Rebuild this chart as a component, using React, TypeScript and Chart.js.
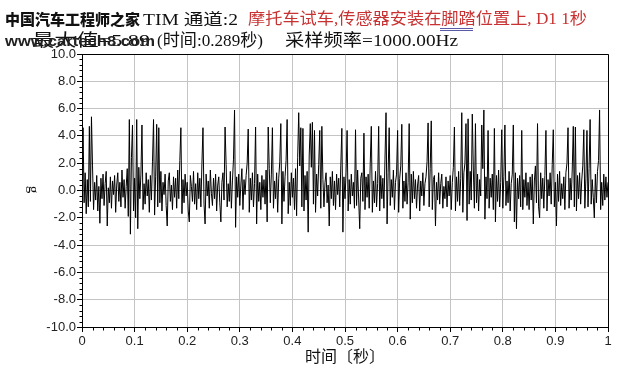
import React, { useEffect, useRef } from "react";
import { Chart, registerables } from "chart.js";

Chart.register(...registerables);

// Sample spacing of the estimated series (seconds)
const STEP = 0.002;

// Acceleration (g), 0.000 s – 0.198 s
const SEG_A = [
  0.4, 4.6, -0.9, 1.3, -1.7, 0.8, -1.2, 4.7, -0.8, 5.4,
  1.8, -1.4, 0.6, -0.7, 1.1, -1.5, 0.3, -2.4, 0.9, -0.6,
  1.2, -1.1, 0.5, 1.4, -2.6, 0.2, -0.9, 1.0, -1.3, 0.7,
  -0.3, 1.1, -1.6, 0.4, 1.3, -0.8, 0.6, -1.2, 1.5, -0.5,
  0.8, -1.3, 0.3, 1.6, -1.9, 5.2, -3.2, 2.4, 4.8, -1.5,
  0.9, -2.0, 5.2, -2.8, 1.7, -0.6, 1.2, 4.8, -1.4, 0.5,
  -1.0, 1.3, -0.4, 0.8, -1.6, 1.1, -0.7, 2.1, 5.2, -1.8,
  1.0, 4.85, -1.2, 4.6, -0.9, 1.4, -1.5, 0.6, -0.3, 1.2,
  -1.1, -2.6, 0.7, 1.3, -0.8, 0.4, -1.4, 1.0, -0.5, 0.9,
  -1.3, 1.5, -0.6, 2.2, 4.6, -1.7, 0.8, -0.9, 1.2, -0.4,
];
// 0.200 s – 0.398 s
const SEG_B = [
  0.6, -1.5, -2.3, 1.1, 0.3, -0.8, 1.4, -1.0, 0.5, -1.4,
  1.3, -0.6, 0.9, -1.2, 2.0, 4.6, -1.0, -2.45, 1.2, -0.4,
  0.7, -1.3, 1.5, -0.2, -1.1, 0.9, -0.6, 1.2, -1.5, 0.4,
  1.0, -0.9, -2.3, 0.6, 1.3, -0.7, 4.65, 1.9, -1.2, 0.5,
  -0.8, 1.4, -1.3, 0.7, 2.3, 5.89, -2.7, 1.0, -0.5, 1.2,
  -1.1, 0.4, 1.6, -1.4, 0.8, -0.3, 1.1, 2.0, 4.5, -1.6,
  0.9, -0.7, 1.3, -1.2, 0.5, 4.65, -2.45, 1.2, -0.8, 0.6,
  -1.4, 1.1, -0.5, 0.8, -1.0, 1.5, -2.3, 4.65, 1.6, -0.9,
  1.2, 4.6, -1.3, 0.7, -0.6, 1.3, -1.6, 0.9, 2.1, 4.9,
  -2.45, 1.4, -0.8, 1.0, 2.2, 5.2, -1.7, 0.6, -1.1, 1.3,
];
// 0.400 s – 0.598 s
const SEG_C = [
  -0.5, 0.9, -1.4, 1.6, -1.85, 2.4, 5.7, 1.8, 4.6, -1.2,
  4.55, -1.5, 1.1, -0.7, 1.4, -3.05, 2.6, 4.9, 1.7, 5.0,
  -1.0, 4.4, -1.6, 1.2, -0.4, 1.9, 4.4, -1.3, 4.7, 0.8,
  -1.2, 0.6, 1.3, -0.9, 0.4, -2.6, 1.0, -0.6, 1.4, -1.1,
  0.7, -1.4, 1.2, -0.3, 0.9, -1.2, 1.8, 4.55, -3.05, 1.0,
  -0.6, 1.3, 4.4, -1.5, 0.8, -1.0, 1.2, -0.4, 0.6, -1.3,
  4.45, -1.1, 1.5, -0.7, -2.8, 0.9, 1.3, -0.8, 4.2, -1.4,
  1.0, -0.5, 1.2, -1.3, 2.0, 4.7, -1.6, 0.7, -0.9, 1.4,
  -1.2, 0.5, 4.7, -1.5, 1.1, -0.6, 0.9, -1.3, 2.3, 5.7,
  -2.45, 1.3, 4.6, -1.1, 0.8, -0.5, 1.5, -1.4, 0.6, 1.2,
];
// 0.600 s – 0.798 s
const SEG_D = [
  4.4, -1.6, 0.9, 1.8, 4.85, -1.3, 0.7, -0.8, 1.3, -1.0,
  0.6, 4.9, -2.1, 1.2, -0.9, 1.4, -0.6, 0.8, -1.3, 0.4,
  1.1, -1.5, 0.7, -0.4, 1.3, -1.1, 0.5, 1.0, 2.1, 4.95,
  -1.2, 1.6, 5.1, -1.4, 0.8, 1.1, -2.6, 0.6, -0.7, 1.3,
  -1.0, 0.5, 1.2, -1.3, 0.3, -0.6, 1.0, -1.2, 0.7, -0.4,
  1.1, -1.4, 0.6, 1.7, 4.65, -1.5, 1.0, -0.8, 1.4, -1.1,
  0.9, 5.7, -1.6, 1.3, 2.0, 4.9, -2.2, 5.25, -1.0, 1.4,
  -0.7, 5.6, 1.5, -1.3, 4.9, -0.9, 1.2, -1.5, 0.8, -0.4,
  4.8, 1.6, 5.9, -2.1, 1.0, -0.6, 4.4, -1.3, 0.9, -0.5,
  1.2, -1.4, 4.55, -2.3, 1.1, -0.8, 1.5, -1.2, 0.6, 4.45,
];
// 0.800 s – 1.000 s
const SEG_E = [
  -1.3, 1.0, 4.8, -1.1, 0.7, -0.9, 1.4, -1.5, 0.5, 1.2,
  4.8, -2.3, 1.3, -2.8, 0.9, -0.6, 1.1, -1.2, 4.4, -1.4,
  0.8, -0.5, 1.3, -1.1, 0.6, -1.4, 1.0, -0.7, 1.2, -2.45,
  0.7, 1.8, -0.9, 4.9, -1.2, -2.0, 1.3, -0.6, 0.9, -1.3,
  1.1, 4.4, -1.5, 0.8, -0.4, 1.3, -1.0, 1.9, 4.45, -1.2,
  0.6, -2.6, 1.2, -0.8, 1.4, -1.1, 0.5, -0.6, 1.0, -1.4,
  1.3, 2.0, 4.6, -1.3, 0.9, -0.7, 1.5, 4.7, -1.2, 4.65,
  -1.5, 1.1, -0.6, 1.3, -1.0, 0.7, 1.8, 4.45, -1.3, 0.9,
  4.4, -1.2, 1.6, 5.2, -1.0, 0.8, -0.5, -2.0, 1.2, -0.9,
  1.4, 2.2, 5.9, -1.4, 0.6, -1.1, 1.2, -0.7, 1.0, -0.5,
  0.6,
];

const SIGNAL = [...SEG_A, ...SEG_B, ...SEG_C, ...SEG_D, ...SEG_E];

// Axis settings
const X_MIN = 0, X_MAX = 1, X_STEP = 0.1, X_MINOR = 0.02;
const Y_MIN = -10, Y_MAX = 10, Y_STEP = 2, Y_MINOR = 0.4;

// Texts
const WATERMARK_1 = "中国汽车工程师之家";
const WATERMARK_2 = "www.cartech8.com";
const HEAD_1 = "TIM 通道:2";
const HEAD_RED = "摩托车试车,传感器安装在脚踏位置上, D1 1秒";
const HEAD_MAX = "最大值=5.89";
const HEAD_TIME = "(时间:0.289秒)";
const HEAD_RATE = "采样频率=1000.00Hz";
const X_TITLE = "时间〔秒〕";
const Y_TITLE = "g";

const SERIF = '"Liberation Serif", "Noto Sans CJK SC", serif';
const SANS = '"Liberation Sans", Arial, sans-serif';

function fitText(
  ctx: CanvasRenderingContext2D,
  text: string,
  x: number,
  baseline: number,
  width: number,
  font: string,
  color: string
) {
  ctx.save();
  ctx.font = font;
  ctx.fillStyle = color;
  ctx.textAlign = "left";
  ctx.textBaseline = "alphabetic";
  const w = ctx.measureText(text).width || 1;
  ctx.translate(x, baseline);
  ctx.scale(width / w, 1);
  ctx.fillText(text, 0, 0);
  ctx.restore();
}

const decorPlugin = {
  id: "decor",
  beforeDraw(chart: any) {
    const ctx = chart.ctx;
    ctx.save();
    ctx.fillStyle = "#fff";
    ctx.fillRect(0, 0, chart.width, chart.height);
    ctx.restore();
  },
  afterDraw(chart: any) {
    const { ctx, chartArea: a, scales } = chart;
    const xs = scales.x;
    const ys = scales.y;
    ctx.save();
    // frame
    ctx.strokeStyle = "#000";
    ctx.lineWidth = 1;
    const l = Math.round(a.left) + 0.5;
    const t = Math.round(a.top) + 0.5;
    const r = Math.round(a.right) + 0.5;
    const b = Math.round(a.bottom) + 0.5;
    ctx.beginPath();
    ctx.moveTo(l, t);
    ctx.lineTo(r, t);
    ctx.lineTo(r, b);
    ctx.lineTo(l, b);
    ctx.closePath();
    ctx.stroke();
    // minor ticks
    ctx.beginPath();
    const nx = Math.round((X_MAX - X_MIN) / X_MINOR);
    const perX = Math.round(X_STEP / X_MINOR);
    for (let k = 0; k <= nx; k++) {
      if (k % perX === 0) continue;
      const px = Math.round(xs.getPixelForValue(X_MIN + k * X_MINOR)) + 0.5;
      ctx.moveTo(px, b);
      ctx.lineTo(px, b + 3);
    }
    const ny = Math.round((Y_MAX - Y_MIN) / Y_MINOR);
    const perY = Math.round(Y_STEP / Y_MINOR);
    for (let k = 0; k <= ny; k++) {
      if (k % perY === 0) continue;
      const py = Math.round(ys.getPixelForValue(Y_MIN + k * Y_MINOR)) + 0.5;
      ctx.moveTo(l - 3, py);
      ctx.lineTo(l, py);
    }
    ctx.stroke();

    // header line 1
    fitText(ctx, WATERMARK_1, 5, 25, 135, '900 15px "Noto Sans CJK SC", sans-serif', "#111");
    fitText(ctx, HEAD_1, 143, 25, 95, `16px ${SERIF}`, "#111");
    fitText(ctx, HEAD_RED, 248, 24, 339, `16px ${SERIF}`, "#c83232");
    // squiggle under 脚踏
    ctx.strokeStyle = "#5a5aa8";
    ctx.beginPath();
    ctx.moveTo(440, 28.5);
    ctx.lineTo(473, 28.5);
    ctx.moveTo(440, 30.5);
    ctx.lineTo(473, 30.5);
    ctx.stroke();

    // header line 2
    fitText(ctx, HEAD_MAX, 32, 46, 118, `17px ${SERIF}`, "#111");
    fitText(ctx, WATERMARK_2, 5, 46, 150, `bold 14px ${SANS}`, "#222");
    fitText(ctx, HEAD_TIME, 157, 46, 106, `17px ${SERIF}`, "#111");
    fitText(ctx, HEAD_RATE, 285, 46, 173, `17px ${SERIF}`, "#111");

    // axis titles
    ctx.fillStyle = "#111";
    ctx.font = `16px "Noto Sans CJK SC", sans-serif`;
    ctx.textAlign = "center";
    ctx.textBaseline = "middle";
    ctx.fillText(X_TITLE, (a.left + a.right) / 2, 356);

    ctx.save();
    ctx.translate(33, (a.top + a.bottom) / 2 - 1);
    ctx.rotate(Math.PI / 2);
    ctx.font = `15px ${SERIF}`;
    ctx.textAlign = "center";
    ctx.textBaseline = "middle";
    ctx.fillText(Y_TITLE, 0, 0);
    ctx.restore();

    ctx.restore();
  },
};

export default function App() {
  const ref = useRef<HTMLCanvasElement | null>(null);

  useEffect(() => {
    const canvas = ref.current;
    if (!canvas) return;
    const points = SIGNAL.map((v, i) => ({ x: i * STEP, y: v }));
    const chart = new Chart(canvas, {
      type: "line",
      data: {
        datasets: [
          {
            data: points,
            borderColor: "#000",
            borderWidth: 1,
            borderJoinStyle: "bevel",
            pointRadius: 0,
            tension: 0,
            fill: false,
          },
        ],
      },
      options: {
        animation: false,
        responsive: false,
        devicePixelRatio: 1,
        parsing: false as any,
        normalized: true,
        layout: { padding: { top: 54, right: 32, left: 0, bottom: 0 } },
        plugins: {
          legend: { display: false },
          tooltip: { enabled: false },
          title: { display: false },
        },
        scales: {
          x: {
            type: "linear",
            min: X_MIN,
            max: X_MAX,
            afterFit: (s: any) => {
              s.height = 50;
            },
            ticks: {
              stepSize: X_STEP,
              autoSkip: false,
              maxRotation: 0,
              padding: 2,
              color: "#222",
              font: { family: SANS, size: 13 },
              callback: (v: any) => {
                const n = Math.round(Number(v) * 10) / 10;
                return n === 0 || n === 1 ? String(n) : n.toFixed(1);
              },
            },
            grid: {
              color: "#c4c4c4",
              tickColor: "#000",
              tickLength: 5,
              lineWidth: 1,
            },
            border: { color: "#000", width: 1 },
          },
          y: {
            type: "linear",
            min: Y_MIN,
            max: Y_MAX,
            afterFit: (s: any) => {
              s.width = 82;
            },
            ticks: {
              stepSize: Y_STEP,
              autoSkip: false,
              padding: 1,
              color: "#222",
              font: { family: SANS, size: 13 },
              callback: (v: any) => Number(v).toFixed(1),
            },
            grid: {
              color: (c: any) => (c.tick && c.tick.value === 0 ? "#6a6a6a" : "#c4c4c4"),
              tickColor: "#000",
              tickLength: 5,
              lineWidth: 1,
            },
            border: { color: "#000", width: 1 },
          },
        },
      },
      plugins: [decorPlugin],
    } as any);
    return () => chart.destroy();
  }, []);

  return (
    <div style={{ position: "absolute", left: 0, top: 0, width: 640, height: 377, background: "#fff" }}>
      <canvas ref={ref} width={640} height={377} style={{ display: "block", width: 640, height: 377 }} />
    </div>
  );
}
